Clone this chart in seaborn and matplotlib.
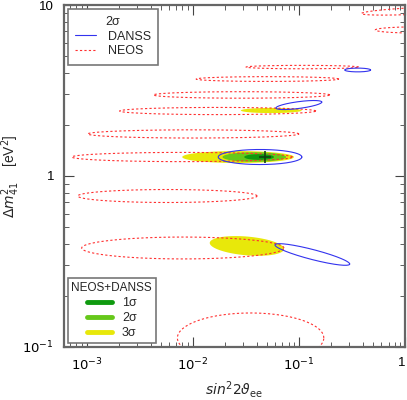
import numpy as np
import pandas as pd
import matplotlib
matplotlib.use("Agg")
import matplotlib.pyplot as plt
from matplotlib.lines import Line2D
import seaborn as sns

# contour regions, described in log10 space:
# centre (log10 sin^2 2theta, log10 dm2), half-width, half-height, slope
neos_cx = [-0.967, -1.296, -1.540, -1.765, -1.995, -2.100, -2.239, -2.094, -1.455, 0.15, 0.10]
neos_cy = [0.637, 0.567, 0.474, 0.380, 0.246, 0.111, -0.117, -0.421, -0.947, 0.967, 0.854]
neos_a = [0.531, 0.672, 0.831, 0.925, 0.995, 1.040, 0.845, 0.953, 0.690, 0.56, 0.38]
neos_b = [0.010, 0.014, 0.019, 0.021, 0.024, 0.027, 0.038, 0.064, 0.146, 0.020, 0.018]
neos_s = [0.0, 0.0, 0.0, 0.0, 0.0, 0.0, 0.0, 0.0, 0.0, 0.03, 0.0]

danss_cx = [-0.446, -1.000, -1.366, -0.873]
danss_cy = [0.620, 0.415, 0.111, -0.459]
danss_a = [0.122, 0.216, 0.394, 0.352]
danss_b = [0.011, 0.020, 0.044, 0.030]
danss_s = [0.0, 0.08, 0.0, -0.158]

# combined NEOS+DANSS allowed regions
sig3_cx = [-1.26, -1.573, -1.49]
sig3_cy = [0.383, 0.111, -0.409]
sig3_a = [0.287, 0.526, 0.350]
sig3_b = [0.015, 0.035, 0.055]
sig3_s = [0.0, 0.0, -0.05]

sig2_cx = [-1.42]
sig2_cy = [0.111]
sig2_a = [0.30]
sig2_b = [0.028]
sig2_s = [0.0]

sig1_cx = [-1.375]
sig1_cy = [0.111]
sig1_a = [0.14]
sig1_b = [0.017]
sig1_s = [0.0]

best_fit = (0.048, 1.29)

c_neos = "#ff3030"
c_danss = "#3333ee"
c_1s = "#0f9a0f"
c_2s = "#66c81a"
c_3s = "#e8e80a"


def outline(cx, cy, a, b, s, n=240):
    t = np.linspace(0, 2 * np.pi, n)
    lx = cx + a * np.cos(t)
    ly = cy + b * np.sin(t) + s * (lx - cx)
    return pd.DataFrame({"x": 10 ** lx, "y": 10 ** ly, "k": np.arange(n)})


sns.set_style("ticks")
plt.rcParams["font.family"] = ["Liberation Sans", "DejaVu Sans"]
plt.rcParams["mathtext.fontset"] = "dejavusans"

fig = plt.figure(figsize=(4.07, 4.00), dpi=100)
ax = fig.add_axes([0.157, 0.1325, 0.838, 0.855])
ax.set_xscale("log")
ax.set_yscale("log")

for cx, cy, a, b, s, col in [(sig3_cx, sig3_cy, sig3_a, sig3_b, sig3_s, c_3s),
                             (sig2_cx, sig2_cy, sig2_a, sig2_b, sig2_s, c_2s),
                             (sig1_cx, sig1_cy, sig1_a, sig1_b, sig1_s, c_1s)]:
    for i in range(len(cx)):
        d = outline(cx[i], cy[i], a[i], b[i], s[i])
        ax.fill(d["x"], d["y"], color=col, lw=0, zorder=1)

ax.plot(*best_fit, marker="+", color="#114411", ms=9, mew=1.2, zorder=3)

for i in range(len(neos_cx)):
    d = outline(neos_cx[i], neos_cy[i], neos_a[i], neos_b[i], neos_s[i])
    sns.lineplot(data=d, x="x", y="y", sort=False, estimator=None, ax=ax,
                 color=c_neos, lw=0.8, dashes=False, zorder=2)
    ax.lines[-1].set_dashes([2, 2])

for i in range(len(danss_cx)):
    d = outline(danss_cx[i], danss_cy[i], danss_a[i], danss_b[i], danss_s[i])
    sns.lineplot(data=d, x="x", y="y", sort=False, estimator=None, ax=ax,
                 color=c_danss, lw=0.8, zorder=2)

ax.set_xlim(6.1e-4, 1)
ax.set_ylim(0.1, 10)

ax.tick_params(which="both", direction="in", top=True, right=True,
               labelsize=9.5, colors="#444444", labelcolor="black")
ax.tick_params(which="major", length=7, width=0.8, pad=7)
ax.tick_params(which="minor", length=3.5, width=0.6)
ax.set_yticks([0.1, 1, 10])
ax.set_yticklabels([r"$10^{-1}$", "1", "10"])
ax.set_xticks([1e-3, 1e-2, 1e-1, 1])
ax.set_xticklabels([r"$10^{-3}$", r"$10^{-2}$", r"$10^{-1}$", "1"])
ax.get_xticklabels()[-1].set_horizontalalignment("right")
for sp in ax.spines.values():
    sp.set_color("#666666")
    sp.set_linewidth(1.6)

ax.set_xlabel(r"$\mathit{sin}^2 2\vartheta_{\rm ee}$", fontsize=10, labelpad=4)
ax.set_ylabel(r"$\Delta m^2_{41}$    [eV$^2$]", fontsize=10, labelpad=0)

h1 = [Line2D([], [], color=c_danss, lw=0.8),
      Line2D([], [], color=c_neos, lw=0.8, dashes=[2, 2])]
leg1 = ax.legend(h1, ["DANSS", "NEOS"], title="2σ", loc="upper left",
                 fontsize=9, title_fontsize=9, frameon=True, fancybox=False,
                 edgecolor="#777777", framealpha=1, borderaxespad=0.3,
                 handlelength=1.7, handletextpad=0.9, borderpad=0.6,
                 labelspacing=0.2)
leg1.get_frame().set_linewidth(1.2)
ax.add_artist(leg1)

h2 = [Line2D([], [], color=c_1s, lw=3.5, solid_capstyle="round"),
      Line2D([], [], color=c_2s, lw=3.5, solid_capstyle="round"),
      Line2D([], [], color=c_3s, lw=3.5, solid_capstyle="round")]
leg2 = ax.legend(h2, ["1σ", "2σ", "3σ"], title="NEOS+DANSS", loc="lower left",
                 fontsize=9, title_fontsize=8.5, frameon=True, fancybox=False,
                 edgecolor="#777777", framealpha=1, borderaxespad=0.3,
                 handlelength=2.0, handletextpad=0.8, borderpad=0.3,
                 labelspacing=0.25)
leg2.get_frame().set_linewidth(1.2)

fig.savefig("out.png", dpi=100)
